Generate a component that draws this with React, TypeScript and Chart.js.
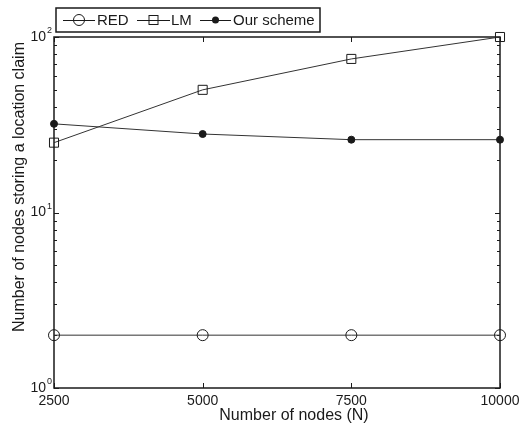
import React, { useEffect, useRef } from "react";
import { Chart, registerables } from "chart.js";

Chart.register(...registerables);

const nodeCounts = [2500, 5000, 7500, 10000];
const redValues = [2, 2, 2, 2];
const lmValues = [25, 50, 75, 100];
const ourValues = [32, 28, 26, 26];
const xTickValues = [2500, 5000, 7500, 10000];
const yMajorExponents = [0, 1, 2];
const seriesNames = ["RED", "LM", "Our scheme"];
const xTitle = "Number of nodes (N)";
const yTitle = "Number of nodes storing a location claim";

const FONT = '"Liberation Sans", Arial, sans-serif';
const INK = "#1a1a1a";

const pts = (vals: number[]) => nodeCounts.map((x, i) => ({ x, y: vals[i] }));

const decorPlugin = {
  id: "decor",
  beforeDatasetsDraw(chart: any) {
    const { ctx, chartArea: a, scales } = chart;
    const xs = scales.x;
    const ys = scales.y;
    ctx.save();
    // box
    ctx.strokeStyle = INK;
    ctx.lineWidth = 1.5;
    ctx.strokeRect(a.left, a.top, a.right - a.left, a.bottom - a.top);
    ctx.lineWidth = 1;
    // x ticks inside top and bottom
    xTickValues.forEach((v) => {
      const px = Math.round(xs.getPixelForValue(v)) + 0.5;
      ctx.beginPath();
      ctx.moveTo(px, a.bottom);
      ctx.lineTo(px, a.bottom - 5);
      ctx.moveTo(px, a.top);
      ctx.lineTo(px, a.top + 5);
      ctx.stroke();
    });
    // y ticks major & minor
    for (let e = 0; e < 2; e++) {
      for (let m = 1; m <= 10; m++) {
        const v = m * Math.pow(10, e);
        const py = Math.round(ys.getPixelForValue(v)) + 0.5;
        const len = m === 1 || m === 10 ? 5 : 3;
        ctx.beginPath();
        ctx.moveTo(a.left, py);
        ctx.lineTo(a.left + len, py);
        ctx.moveTo(a.right, py);
        ctx.lineTo(a.right - len, py);
        ctx.stroke();
      }
    }
    // x tick labels
    ctx.fillStyle = INK;
    ctx.font = `14px ${FONT}`;
    ctx.textAlign = "center";
    ctx.textBaseline = "middle";
    xTickValues.forEach((v) => {
      ctx.fillText(String(v), xs.getPixelForValue(v), a.bottom + 13);
    });
    // y tick labels 10^e
    yMajorExponents.forEach((e) => {
      const py = ys.getPixelForValue(Math.pow(10, e));
      ctx.font = `14px ${FONT}`;
      ctx.textAlign = "right";
      ctx.textBaseline = "middle";
      ctx.fillText("10", a.left - 8, py);
      ctx.font = `9px ${FONT}`;
      ctx.textAlign = "left";
      ctx.fillText(String(e), a.left - 7, py - 6);
    });
    // x title
    ctx.font = `16px ${FONT}`;
    ctx.textAlign = "center";
    ctx.textBaseline = "middle";
    ctx.fillText(xTitle, 294, 416);
    // y title
    ctx.save();
    ctx.translate(20, 187);
    ctx.rotate(-Math.PI / 2);
    ctx.fillText(yTitle, 0, 0);
    ctx.restore();
    ctx.restore();
  },
  afterDraw(chart: any) {
    const { ctx } = chart;
    ctx.save();
    // legend box
    ctx.fillStyle = "#ffffff";
    ctx.fillRect(56, 8, 264, 24);
    ctx.strokeStyle = INK;
    ctx.lineWidth = 1.5;
    ctx.strokeRect(56, 8, 264, 24);
    ctx.lineWidth = 1;
    const cy = 20;
    const items = [
      { x0: 63, x1: 95, tx: 97, kind: "circle" },
      { x0: 137, x1: 170, tx: 171, kind: "rect" },
      { x0: 200, x1: 231, tx: 233, kind: "dot" },
    ];
    items.forEach((it, i) => {
      ctx.strokeStyle = INK;
      ctx.beginPath();
      ctx.moveTo(it.x0, cy + 0.5);
      ctx.lineTo(it.x1, cy + 0.5);
      ctx.stroke();
      const cx = (it.x0 + it.x1) / 2;
      ctx.beginPath();
      if (it.kind === "circle") {
        ctx.arc(cx, cy, 5.5, 0, Math.PI * 2);
        ctx.stroke();
      } else if (it.kind === "rect") {
        ctx.strokeRect(cx - 4.5, cy - 4.5, 9, 9);
      } else {
        ctx.fillStyle = INK;
        ctx.arc(cx, cy, 3.5, 0, Math.PI * 2);
        ctx.fill();
      }
      ctx.fillStyle = INK;
      ctx.font = `15px ${FONT}`;
      ctx.textAlign = "left";
      ctx.textBaseline = "middle";
      ctx.fillText(seriesNames[i], it.tx, cy + 1);
    });
    ctx.restore();
  },
};

export default function App() {
  const ref = useRef<HTMLCanvasElement | null>(null);
  useEffect(() => {
    if (!ref.current) return;
    const common = {
      borderColor: "#333333",
      borderWidth: 1,
      pointBorderColor: INK,
      pointBorderWidth: 1,
      tension: 0,
      clip: false as any,
    };
    const chart = new Chart(ref.current, {
      type: "line",
      data: {
        datasets: [
          {
            ...common,
            label: seriesNames[0],
            data: pts(redValues),
            pointStyle: "circle",
            pointRadius: 5.5,
            pointBackgroundColor: "rgba(0,0,0,0)",
          },
          {
            ...common,
            label: seriesNames[1],
            data: pts(lmValues),
            pointStyle: "rect",
            pointRadius: 6.4,
            pointBackgroundColor: "rgba(0,0,0,0)",
          },
          {
            ...common,
            label: seriesNames[2],
            data: pts(ourValues),
            pointStyle: "circle",
            pointRadius: 3.5,
            pointBackgroundColor: INK,
          },
        ],
      },
      options: {
        responsive: false,
        animation: false,
        layout: { padding: { top: 37, right: 27, left: 0, bottom: 0 } },
        plugins: { legend: { display: false }, tooltip: { enabled: false } },
        scales: {
          x: {
            type: "linear",
            min: 2500,
            max: 10000,
            grid: { display: false },
            border: { display: false },
            ticks: { display: false },
            afterFit: (s: any) => {
              s.height = 38;
            },
          },
          y: {
            type: "logarithmic",
            min: 1,
            max: 100,
            grid: { display: false },
            border: { display: false },
            ticks: { display: false },
            afterFit: (s: any) => {
              s.width = 54;
            },
          },
        },
      },
      plugins: [decorPlugin],
    });
    return () => chart.destroy();
  }, []);
  return (
    <div style={{ position: "absolute", left: 0, top: 0, width: 527, height: 426, background: "#fff" }}>
      <canvas ref={ref} width={527} height={426} style={{ width: 527, height: 426 }} />
    </div>
  );
}
